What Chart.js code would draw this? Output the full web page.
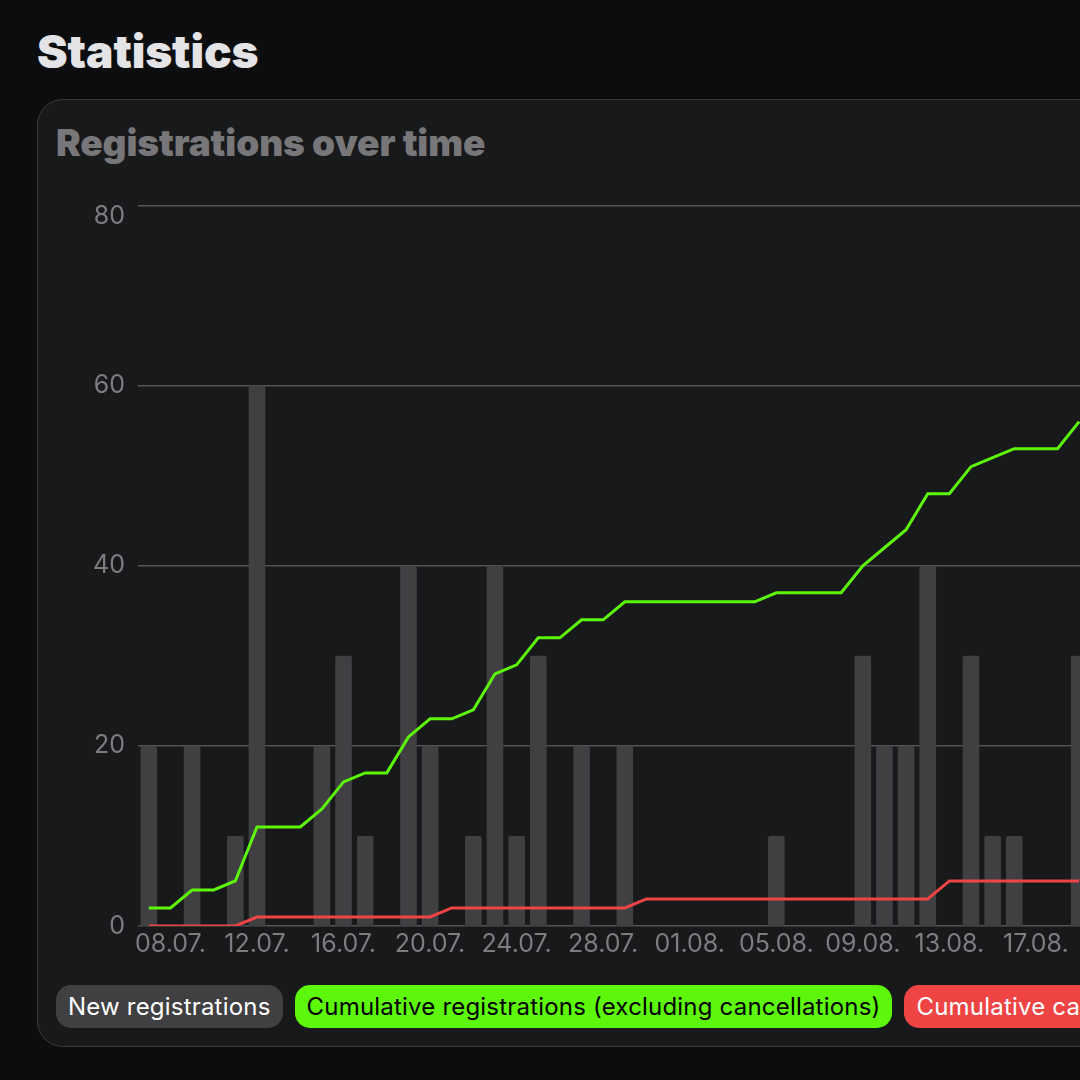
<!DOCTYPE html>
<html>
<head>
<meta charset="utf-8">
<script src="https://cdn.jsdelivr.net/npm/chart.js@4.4.1/dist/chart.umd.min.js"></script>
<style>
  html, body { margin: 0; padding: 0; }
  body {
    width: 1080px; height: 1080px; overflow: hidden; position: relative;
    background: #0c0d0f;
    font-family: Inter, "Noto Sans", sans-serif;
  }
  h1 {
    position: absolute; left: 37px; top: 28px; margin: 0;
    font-size: 46px; line-height: 46px; font-weight: 900; color: #e4e4e6;
    letter-spacing: -0.1px;
  }
  .card {
    position: absolute; left: 37px; top: 99px; width: 1200px; height: 946px;
    background: #18191b; border: 1px solid #3a3a3d; border-radius: 26px;
  }
  .card h2 {
    position: absolute; left: 18px; top: 24px; margin: 0;
    font-size: 37px; line-height: 37px; font-weight: 900; color: #77777a;
    letter-spacing: -0.1px; white-space: nowrap;
  }
  .chart-box { position: absolute; left: 19px; top: 70px; width: 1033px; height: 796px; }
  .legend {
    position: absolute; left: 18px; top: 885px; display: flex; gap: 12px;
    white-space: nowrap;
  }
  .legend span {
    display: inline-block; height: 43px; line-height: 43px; padding: 0 12px;
    border-radius: 15px; font-size: 24px; letter-spacing: 0.2px;
  }
</style>
</head>
<body>
<h1>Statistics</h1>
<div class="card">
  <h2>Registrations over time</h2>
  <div class="chart-box"><canvas id="registrationsChart"></canvas></div>
  <div class="legend" id="legend"></div>
</div>
<script>
// Daten
var days = ["07.07.", "08.07.", "09.07.", "10.07.", "11.07.", "12.07.", "13.07.", "14.07.",
    "15.07.", "16.07.", "17.07.", "18.07.", "19.07.", "20.07.", "21.07.", "22.07.", "23.07.",
    "24.07.", "25.07.", "26.07.", "27.07.", "28.07.", "29.07.", "30.07.", "31.07.", "01.08.",
    "02.08.", "03.08.", "04.08.", "05.08.", "06.08.", "07.08.", "08.08.", "09.08.", "10.08.",
    "11.08.", "12.08.", "13.08.", "14.08.", "15.08.", "16.08.", "17.08.", "18.08.", "19.08."];

var newRegistrations = [2, 0, 2, 0, 1, 6, 0, 0, 2, 3, 1, 0, 4, 2, 0, 1, 4, 1, 3, 0, 2, 0,
    2, 0, 0, 0, 0, 0, 0, 1, 0, 0, 0, 3, 2, 2, 4, 0, 3, 1, 1, 0, 0, 3];

var cumulativeRegistrations = [2, 2, 4, 4, 5, 11, 11, 11, 13, 16, 17, 17, 21, 23, 23, 24, 28,
    29, 32, 32, 34, 34, 36, 36, 36, 36, 36, 36, 36, 37, 37, 37, 37, 40, 42, 44, 48, 48, 51,
    52, 53, 53, 53, 56];

var cumulativeCancellations = [0, 0, 0, 0, 0, 1, 1, 1, 1, 1, 1, 1, 1, 1, 2, 2, 2, 2, 2, 2, 2,
    2, 2, 3, 3, 3, 3, 3, 3, 3, 3, 3, 3, 3, 3, 3, 3, 5, 5, 5, 5, 5, 5, 5];

var yTicks = [0, 20, 40, 60, 80];

var tickFont = { family: "Inter", size: 25, lineHeight: 0.9 };

var barData = {
    labels: days,
    datasets: [
        {
            type: "bar",
            label: "New registrations",
            data: newRegistrations,
            backgroundColor: "#404043",
            borderRadius: 2,
            barPercentage: 0.96,
            categoryPercentage: 0.8,
            yAxisID: "y1",
            order: 3,
            pillText: "#ffffff"
        },
        {
            type: "line",
            label: "Cumulative registrations (excluding cancellations)",
            data: cumulativeRegistrations,
            borderColor: "#5cf70a",
            backgroundColor: "#5cf70a",
            borderWidth: 3,
            pointRadius: 0,
            tension: 0,
            yAxisID: "y",
            order: 1,
            pillText: "#000000"
        },
        {
            type: "line",
            label: "Cumulative cancellations",
            data: cumulativeCancellations,
            borderColor: "#ef4444",
            backgroundColor: "#ef4444",
            borderWidth: 3,
            pointRadius: 0,
            tension: 0,
            yAxisID: "y",
            order: 2,
            pillText: "#ffffff"
        }
    ]
};

var barOptions = {
    responsive: true,
    maintainAspectRatio: false,
    animation: false,
    layout: { padding: { top: 20, right: 0, bottom: 0, left: 0 } },
    plugins: { legend: { display: false }, tooltip: { enabled: false } },
    scales: {
        x: {
            grid: { display: false, drawTicks: false },
            border: { display: false },
            ticks: {
                autoSkip: false,
                maxRotation: 0,
                padding: 7,
                color: "#7d7d80",
                font: tickFont,
                callback: function (value, index) {
                    // jeden 4. Tag beschriften, ab 08.07.
                    return index % 4 === 1 ? days[index] : null;
                }
            },
            afterFit: function (scale) { scale.height = 40; }
        },
        y: {
            min: yTicks[0],
            max: yTicks[yTicks.length - 1],
            grid: { color: "#535356", lineWidth: 1.5, drawTicks: false },
            border: { display: false },
            ticks: {
                stepSize: 20,
                padding: 13,
                color: "#7d7d80",
                font: tickFont,
                callback: function (value) {
                    return value === 80 ? ["", "80"] : value;
                }
            },
            afterFit: function (scale) { scale.width = 81; }
        },
        y1: {
            display: false,
            min: 0,
            max: 8
        }
    }
};

var ctx1 = document.getElementById("registrationsChart").getContext("2d");
var chart = new Chart(ctx1, { data: barData, options: barOptions });

// Legende als Pillen
var legend = document.getElementById("legend");
chart.data.datasets.forEach(function (ds) {
    var pill = document.createElement("span");
    pill.textContent = ds.label;
    pill.style.background = ds.type === "bar" ? ds.backgroundColor : ds.borderColor;
    pill.style.color = ds.pillText;
    legend.appendChild(pill);
});
</script>
</body>
</html>
